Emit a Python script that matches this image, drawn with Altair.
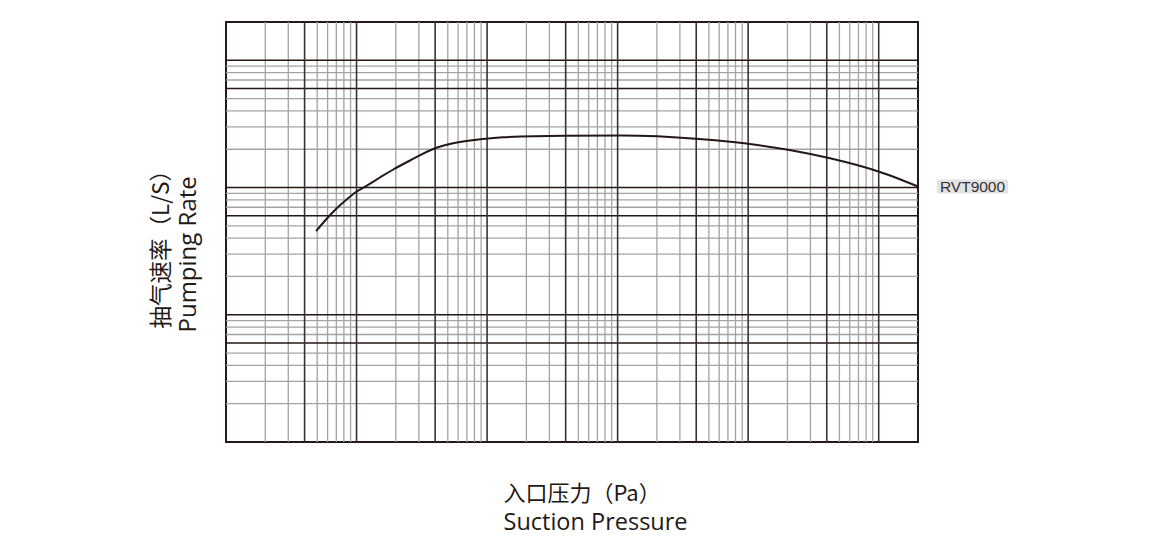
import altair as alt
import pandas as pd

# ---- curve data ----
pressure = [4.9, 5.84, 6.96, 8.31, 9.9, 12, 15.1, 19.1, 25.7, 40, 55, 93, 132, 390, 1080, 4200, 11750, 20700, 42400, 101000, 200000]
speed = [455, 561, 678, 798, 922, 1037, 1199, 1386, 1631, 2034, 2227, 2407, 2481, 2554, 2563, 2407, 2159, 1972, 1697, 1331, 1019]
series_name = "RVT9000"

# ---- grid definition ----
x_decades = [1, 10, 100, 1000, 10000, 100000]
x_minor_mult = [2, 3, 5, 6, 7, 8, 9]
x_major_mult = [4, 10]
y_decades = [10, 100, 1000, 10000]
y_minor_mult = [2, 3, 4, 5, 7, 8, 9]
y_major_mult = [6, 10]
x_domain = [1, 200000]
y_domain = [10, 20000]

x_title_cn = "入口压力（Pa）"
x_title_en = "Suction Pressure"
y_title_cn = "抽气速率（L/S）"
y_title_en = "Pumping Rate"

def within(vals, dom):
    return [v for v in vals if dom[0] < v < dom[1]]

x_minor = within([d * m for d in x_decades for m in x_minor_mult], x_domain)
x_major = within([d * m for d in x_decades for m in x_major_mult], x_domain)
y_minor = within([d * m for d in y_decades for m in y_minor_mult], y_domain)
y_major = within([d * m for d in y_decades for m in y_major_mult], y_domain)

DARK = "#231815"
GRAY = "#a3a3a3"
FONT_CN = "Noto Sans CJK SC, Open Sans, sans-serif"
FONT_EN = "Open Sans, sans-serif"


def make_axis(title, font, size, tx, ty, angle, orient):
    return alt.Axis(title=title, orient=orient, labels=False, ticks=False, domain=False, grid=False,
                    titleFont=font, titleFontSize=size, titleFontWeight="normal",
                    titleColor=DARK, titleX=tx, titleY=ty, titleAlign="left",
                    titleBaseline="alphabetic", titleAngle=angle)


x_axis_cn = make_axis(x_title_cn, FONT_CN, 22, 277, 58.5, 0, "bottom")
x_axis_en = make_axis(x_title_en, FONT_EN, 23.5, 277, 87, 0, "bottom")
y_axis_cn = make_axis(y_title_cn, FONT_CN, 22.5, -58, 306, 270, "left")
y_axis_en = make_axis(y_title_en, FONT_EN, 24, -31, 310, 270, "left")

xs = alt.Scale(type="log", domain=x_domain, nice=False)
ys = alt.Scale(type="log", domain=y_domain, nice=False)


def X(field, axis=None):
    return alt.X(field, type="quantitative", scale=xs, axis=axis)


def Y(field, axis=None):
    return alt.Y(field, type="quantitative", scale=ys, axis=axis)


vminor = alt.Chart(pd.DataFrame({"v": x_minor})).mark_rule(color=GRAY, strokeWidth=1.3).encode(
    x=X("v", x_axis_cn))
vmajor = alt.Chart(pd.DataFrame({"v": x_major})).mark_rule(color="#3a3232", strokeWidth=1.6).encode(
    x=X("v", x_axis_en))
hminor = alt.Chart(pd.DataFrame({"h": y_minor})).mark_rule(color=GRAY, strokeWidth=1.3).encode(
    y=Y("h", y_axis_cn))
hmajor = alt.Chart(pd.DataFrame({"h": y_major})).mark_rule(color=DARK, strokeWidth=1.6).encode(
    y=Y("h", y_axis_en))

curve_df = pd.DataFrame({"pressure": pressure, "speed": speed})
curve = alt.Chart(curve_df).mark_line(color=DARK, strokeWidth=2, interpolate="monotone").encode(
    x=X("pressure"), y=Y("speed"))

label_df = pd.DataFrame({"pressure": [pressure[-1]], "speed": [speed[-1]], "label": [series_name]})
label_box = alt.Chart(label_df).mark_rect(color="#e3e3e3", width=71, height=14, xOffset=54.5).encode(
    x=X("pressure"), y=Y("speed"))
label_text = alt.Chart(label_df).mark_text(font="Liberation Sans", fontSize=15.5, color="#333333",
                                           align="center", baseline="middle", dx=54.5, dy=0.5).encode(
    x=X("pressure"), y=Y("speed"), text="label:N")

chart = alt.layer(hminor, vminor, hmajor, vmajor, curve, label_box, label_text).resolve_axis(
    x="independent", y="independent"
).properties(
    width=692, height=420,
    padding={"left": 218, "top": 14, "right": 230, "bottom": 100},
    autosize=alt.AutoSizeParams(type="none"),
    background="white",
).configure_view(stroke=DARK, strokeWidth=2)

chart.save("out.html", embed_options={"renderer": "svg", "actions": False})
